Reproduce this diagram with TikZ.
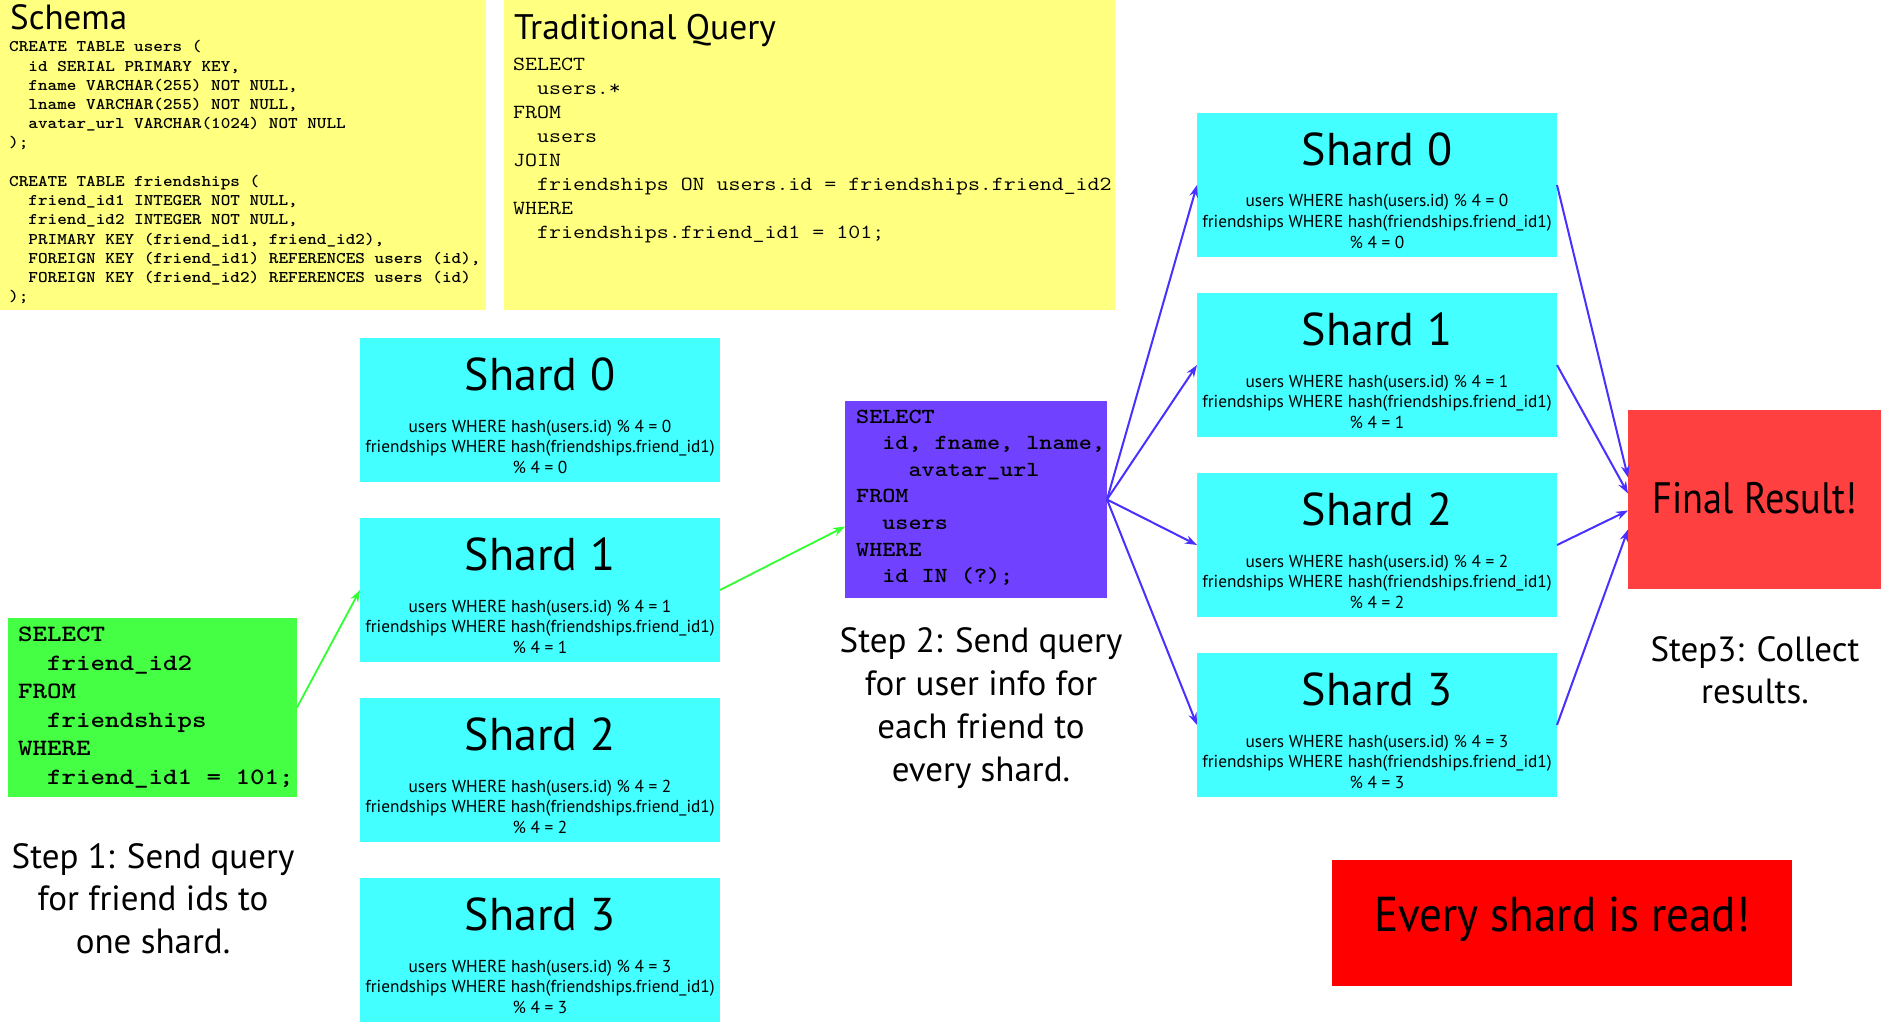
\documentclass[tikz,border=0pt]{standalone}
\usepackage{fontspec}
\setmainfont{PT Sans}
\usepackage{graphicx}
\usetikzlibrary{calc,arrows.meta}
\definecolor{cyanbox}{RGB}{68,255,255}
\definecolor{yellowbox}{RGB}{255,255,128}
\definecolor{greenbox}{RGB}{68,255,68}
\definecolor{purplebox}{RGB}{112,66,255}
\definecolor{finalred}{RGB}{255,64,64}
\definecolor{alertred}{RGB}{255,0,0}
\definecolor{arrowblue}{RGB}{72,48,255}
\definecolor{arrowgreen}{RGB}{48,255,48}
\newcommand\clx[2]{\scalebox{#1}[1]{#2}}
\newcommand\shardnode[4]{%
  \node[shard] (#1) at (#2,#3) {};
  \node[shardtitle] (#1-t) at ($(#1.north)+(0,52)$) {Shard #4};
  \node[shardtext] (#1-a) at ($(#1.north)+(0,94)$) {users WHERE hash(users.id) \% 4 = #4};
  \node[shardtext] (#1-b) at ($(#1.north)+(0,114.5)$) {friendships WHERE hash(friendships.friend\_id1)};
  \node[shardtext] (#1-c) at ($(#1.north)+(0,135)$) {\% 4 = #4};
}
\begin{document}
\begin{tikzpicture}[x=1pt,y=-1pt,
  panel/.style={anchor=north west, inner sep=0pt, outer sep=0pt, draw=none},
  shard/.style={panel, fill=cyanbox, minimum width=360, minimum height=144},
  shardtitle/.style={anchor=base, inner sep=0pt, font=\fontsize{46}{50}\selectfont},
  shardtext/.style={anchor=base, inner sep=0pt, font=\fontsize{17.3}{20}\selectfont},
  codeline/.style={anchor=base west, inner sep=0pt},
  heading/.style={anchor=base west, inner sep=0pt},
  steptext/.style={anchor=base, inner sep=0pt, font=\fontsize{35}{42}\selectfont},
  bigtext/.style={anchor=base, inner sep=0pt},
  garrow/.style={draw=arrowgreen, line width=1.8pt, -{Stealth[length=12pt,width=8.5pt]}},
  barrow/.style={draw=arrowblue, line width=2pt, -{Stealth[length=12pt,width=8.5pt]}}
]
\fill[white] (0,0) rectangle (1899,1022);
\useasboundingbox (0,0) rectangle (1899,1022);

% Schema panel
\node[panel, fill=yellowbox, minimum width=486, minimum height=310] (schema) at (0,0) {};
\node[heading, font=\fontsize{35}{40}\selectfont] (schema-t) at (10,30) {Schema};
\foreach \t [count=\i from 0] in {{CREATE TABLE users (},{\phantom{xx}id SERIAL PRIMARY KEY,},{\phantom{xx}fname VARCHAR(255) NOT NULL,},{\phantom{xx}lname VARCHAR(255) NOT NULL,},{\phantom{xx}avatar\_url VARCHAR(1024) NOT NULL},{);}}
  \node[codeline, font=\fontsize{16.3}{19}\selectfont\ttfamily\bfseries] (sa\i) at (9,52+19.2*\i) {\clx{1.124}{\t}};
\foreach \t [count=\i from 7] in {{CREATE TABLE friendships (},{\phantom{xx}friend\_id1 INTEGER NOT NULL,},{\phantom{xx}friend\_id2 INTEGER NOT NULL,},{\phantom{xx}PRIMARY KEY (friend\_id1, friend\_id2),},{\phantom{xx}FOREIGN KEY (friend\_id1) REFERENCES users (id),},{\phantom{xx}FOREIGN KEY (friend\_id2) REFERENCES users (id)},{);}}
  \node[codeline, font=\fontsize{16.3}{19}\selectfont\ttfamily\bfseries] (sb\i) at (9,52+19.2*\i) {\clx{1.124}{\t}};

% Traditional query panel
\node[panel, fill=yellowbox, minimum width=611, minimum height=310] (trad) at (504,0) {};
\node[heading, font=\fontsize{35.5}{42}\selectfont] (trad-t) at (514,40) {Traditional Query};
\foreach \t [count=\i from 0] in {{SELECT},{\phantom{xx}users.*},{FROM},{\phantom{xx}users},{JOIN},{\phantom{xx}friendships ON users.id = friendships.friend\_id2},{WHERE},{\phantom{xx}friendships.friend\_id1 = 101;}}
  \node[codeline, font=\fontsize{20}{24}\selectfont\ttfamily] (tq\i) at (513,70.5+24*\i) {\clx{1.162}{\t}};

% Step 1 query
\node[panel, fill=greenbox, minimum width=289, minimum height=179] (green) at (8,618) {};
\foreach \t [count=\i from 0] in {{SELECT},{\phantom{xx}friend\_id2},{FROM},{\phantom{xx}friendships},{WHERE},{\phantom{xx}friend\_id1 = 101;}}
  \node[codeline, font=\fontsize{23.4}{28}\selectfont\ttfamily\bfseries] (gq\i) at (18,641.5+28.5*\i) {\clx{1.18}{\t}};
\foreach \t [count=\i from 0] in {{Step 1: Send query},{for friend ids to},{one shard.}}
  \node[steptext] (st1-\i) at (153,868+42.5*\i) {\t};

% left shards
\shardnode{ls0}{360}{338}{0}
\shardnode{ls1}{360}{518}{1}
\shardnode{ls2}{360}{698}{2}
\shardnode{ls3}{360}{878}{3}

% Step 2 query
\node[panel, fill=purplebox, minimum width=262, minimum height=197] (purple) at (845,401) {};
\foreach \t [count=\i from 0] in {{SELECT},{\phantom{xx}id, fname, lname,},{\phantom{xxxx}avatar\_url},{FROM},{\phantom{xx}users},{WHERE},{\phantom{xx}id IN (?);}}
  \node[codeline, font=\fontsize{21.5}{26}\selectfont\ttfamily\bfseries] (pq\i) at (856,423+26.6*\i) {\clx{1.16}{\t}};
\foreach \t [count=\i from 0] in {{Step 2: Send query},{for user info for},{each friend to},{every shard.}}
  \node[steptext] (st2-\i) at (981,652+43*\i) {\t};

% right shards
\shardnode{rs0}{1197}{113}{0}
\shardnode{rs1}{1197}{293}{1}
\shardnode{rs2}{1197}{473}{2}
\shardnode{rs3}{1197}{653}{3}

% final result
\node[panel, fill=finalred, minimum width=253, minimum height=179] (final) at (1628,410) {};
\node[bigtext, font=\fontsize{44}{50}\selectfont] (final-t) at (1755,513) {\clx{0.87}{Final Result!}};
\foreach \t [count=\i from 0] in {{Step3: Collect},{results.}}
  \node[steptext] (st3-\i) at (1755,661+42*\i) {\t};

% alert
\node[panel, fill=alertred, minimum width=460, minimum height=126] (alert) at (1332,860) {};
\node[bigtext, font=\fontsize{49}{54}\selectfont] (alert-t) at (1562,931) {\clx{0.92}{Every shard is read!}};

% connectors
\draw[garrow] (green.east) -- (ls1.west);
\draw[garrow] (ls1.east) -- ($(purple.west)+(0,27)$);
\foreach \k in {0,...,3}
  \draw[barrow] (purple.east) -- (rs\k.west);
\draw[barrow] (rs0.east) -- ($(final.west)+(0,-22)$);
\draw[barrow] (rs1.east) -- ($(final.west)+(0,-6)$);
\draw[barrow] (rs2.east) -- ($(final.west)+(0,11)$);
\draw[barrow] (rs3.east) -- ($(final.west)+(0,30)$);
\end{tikzpicture}
\end{document}
